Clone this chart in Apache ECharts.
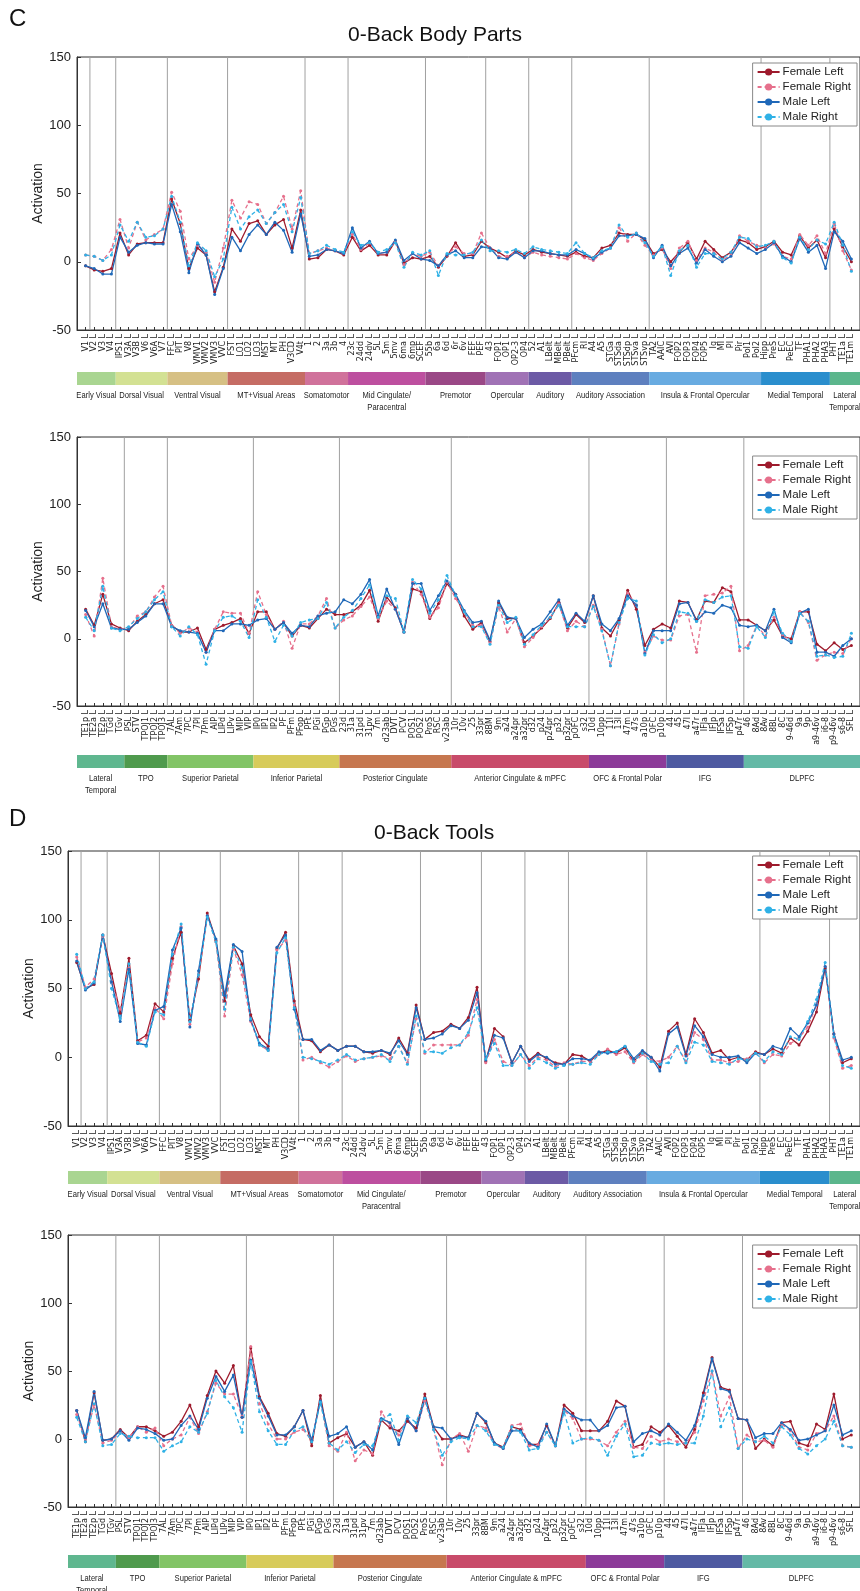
<!DOCTYPE html>
<html>
<head>
<meta charset="utf-8">
<title>0-Back activation</title>
<script src="https://cdn.jsdelivr.net/npm/echarts@6/dist/echarts.min.js"></script>
<style>
  html, body { margin: 0; background: #fff; }
  #chart { width: 860px; height: 1591px; }
</style>
</head>
<body>
<div id="chart"></div>
<script>
// ---- region names (left hemisphere), first and second half of the atlas ----
var namesA = ['V1','V2','V3','V4','IPS1','V3A','V3B','V6','V6A','V7','FFC','PIT','V8','VMV1','VMV2','VMV3','VVC',
  'FST','LO1','LO2','LO3','MST','MT','PH','V3CD','V4t','1','2','3a','3b','4',
  '23c','24dd','24dv','5L','5m','5mv','6ma','6mp','SCEF','55b','6a','6d','6r','6v','FEF','PEF',
  '43','FOP1','OP1','OP2-3','OP4','52','A1','LBelt','MBelt','PBelt',
  'PFcm','RI','A4','A5','STGa','STSda','STSdp','STSva','STSvp',
  'TA2','AAIC','AVI','FOP2','FOP3','FOP4','FOP5','Ig','MI','PI','Pir','PoI1','PoI2',
  'Hipp','PreS','EC','PeEC','TF','PHA1','PHA2','PHA3','PHT','TE1a','TE1m'];
var namesB = ['TE1p','TE2a','TE2p','TGd','TGv','PSL','STV','TPOJ1','TPOJ2','TPOJ3',
  '7AL','7Am','7PC','7Pl','7Pm','AIP','LIPd','LIPv','MIP','VIP',
  'IP0','IP1','IP2','PF','PFm','PFop','PFt','PGi','PGp','PGs',
  '23d','31a','31pd','31pv','7m','d23ab','DVT','PCV','POS1','POS2','ProS','RSC','v23ab',
  '10r','10v','25','33pr','8BM','9m','a24','a24pr','a32pr','d32','p24','p24pr','p32','p32pr','pOFC','s32',
  '10d','10pp','11l','13l','47m','47s','a10p','OFC','p10p',
  '44','45','47l','a47r','IFJa','IFJp','IFSa','IFSp','p47r',
  '46','8Ad','8Av','8BL','8C','9-46d','9a','9p','a9-46v','i6-8','p9-46v','s6-8','SFL'];

// network groups shown in the colour strip
var groupNamesA = ['Early Visual','Dorsal Visual','Ventral Visual','MT+Visual Areas','Somatomotor',
  'Mid Cingulate/\nParacentral','Premotor','Opercular','Auditory','Auditory Association',
  'Insula & Frontal Opercular','Medial Temporal','Lateral\nTemporal'];
var groupSizesA = [4, 6, 7, 9, 5, 9, 7, 5, 5, 9, 13, 8, 3];
var groupNamesB = ['Lateral\nTemporal','TPO','Superior Parietal','Inferior Parietal','Posterior Cingulate',
  'Anterior Cingulate & mPFC','OFC & Frontal Polar','IFG','DLPFC'];
var groupSizesB = [5, 5, 10, 10, 13, 16, 9, 9, 13];
var extraDividersA = [1]; // V1 | V2

var seriesNames = ['Female Left', 'Female Right', 'Male Left', 'Male Right'];

// ---- 0-Back Body Parts ----
var bodyFemaleLeftA = [-3,-6,-7,-5,21,5,13,14,14,14, 46,28,-5,10,5,-22,-4, 24,15,28,30,20,27,31,10,38,
  2,3,9,8,5, 18,8,12,5,5,15,-1,3,2, 4,-4,4,14,4,5,15, 10,7,3,8,5, 9,7,6,5,4,
  7,4,3,10,12,21,20,20,16, 6,9,0,7,14,2,15,9,3,7,16,14,9, 11,15,7,5,19,10,16,3, 24,11,0];
var bodyFemaleRightA = [5,4,1,9,31,10,29,16,20,24, 51,37,2,12,7,-15,10, 45,32,44,42,28,36,48,24,52,
  6,8,10,8,6, 20,9,14,6,7,15,-2,6,4, 7,-3,5,11,6,6,21, 10,4,4,7,3, 7,5,4,3,2,
  6,3,1,6,10,25,15,21,12, 5,10,-5,10,15,1,10,7,1,5,19,15,12, 10,13,4,2,20,12,19,6, 28,8,-6];
var bodyMaleLeftA = [-3,-5,-9,-9,18,7,12,14,13,13, 42,22,-8,13,5,-24,-5, 18,8,20,27,20,29,23,7,35,
  4,5,9,8,6, 25,10,15,6,7,16,1,6,2, 1,-3,5,8,3,3,11, 10,3,2,7,3, 8,8,6,5,5,
  9,6,2,7,10,19,19,20,17, 3,12,-3,6,10,-1,9,4,0,4,14,10,6, 9,14,4,0,17,7,12,-5, 22,15,2];
var bodyMaleRightA = [5,4,1,5,27,15,29,18,19,24, 48,29,-3,14,8,-11,2, 40,24,33,38,28,36,42,22,47,
  6,8,12,9,7, 22,12,14,7,9,14,-4,7,5, 8,-10,6,5,5,7,16, 8,8,7,9,6, 11,9,8,7,6,
  14,6,3,8,10,27,18,21,14, 4,11,-10,8,12,-4,6,6,2,7,18,17,11, 12,15,3,-1,18,9,16,13, 29,12,-7];

var bodyFemaleLeftB = [22,10,33,11,8, 6,13,18,26,29, 10,5,5,8,-8,7,10,12,15,4, 20,20,7,12,2,10,8,15,22,18,
  18,20,25,36,13,31,23,5,37,35,15,26,41, 33,17,7,12,-2,27,15,15,-3,2,8,15,27,8,18,12,
  32,8,2,14,36,22,-5,7,11, 8,28,27,14,28,27,38,35,14, 14,10,6,14,2,0,20,20,-4,-9,-3,-8,-5];
var bodyFemaleRightB = [18,2,45,9,7, 8,17,20,31,39, 10,4,8,5,-10,7,20,19,19,4, 35,18,7,13,-7,11,11,17,30,8,
  14,17,24,31,15,28,22,5,42,33,16,23,42, 30,20,10,10,-3,24,5,15,-6,1,9,16,26,6,13,9,
  25,7,-20,11,34,25,-10,2,-1, -1,17,18,-10,32,33,34,39,-9, -5,10,2,16,3,-2,20,12,-16,-12,-10,-11,0];
var bodyMaleLeftB = [21,9,26,8,7, 7,12,17,26,26, 9,6,5,4,-10,6,6,11,11,10, 14,15,7,12,4,10,9,17,19,20,
  29,26,33,44,17,37,22,5,41,41,21,32,43, 33,21,12,13,-1,28,16,15,1,7,11,20,29,10,19,13,
  32,11,6,15,32,25,-11,6,6, 6,26,27,13,20,19,25,23,10, 9,10,6,22,1,-3,19,22,-10,-10,-13,-5,0];
var bodyMaleRightB = [16,6,39,8,6, 9,15,20,29,35, 9,2,9,3,-19,6,16,17,13,1, 29,16,-2,10,2,12,14,15,27,8,
  16,21,30,40,16,32,30,5,44,37,19,29,47, 32,20,9,9,-4,25,12,16,-4,3,10,16,25,9,9,9,
  24,6,-20,12,30,28,-12,3,-3, 0,20,19,13,29,27,31,32,-6, -7,9,1,20,4,-2,19,13,-13,-12,-14,-13,4];

// ---- 0-Back Tools ----
var toolFemaleLeftA = [69,50,53,89,61,32,72,12,16,39, 33,72,91,27,57,105,85, 41,81,68,31,15,8,79,91,41,
  13,12,4,9,5, 8,8,4,3,5,2,14,3,38, 13,18,19,24,21,29,51, -3,21,15,-4,8, -2,3,-1,-4,-5,
  2,1,-3,3,5,3,7,-3,4, 0,-7,19,25,2,28,18,3,5,-2,0,-2,4, 2,6,3,14,9,19,33,65, 17,-4,-1];
var toolFemaleRightA = [73,51,57,88,55,35,65,11,14,36, 28,68,95,24,60,103,84, 30,79,60,26,9,5,78,85,38,
  -2,0,-4,-7,-3, 1,-3,-1,0,1,-1,8,-4,28, 3,9,9,9,9,16,42, -4,13,-3,-6,2, -6,0,-2,-7,-4,
  -5,-3,-3,2,6,2,4,-4,2, -2,-3,0,8,-3,18,13,-2,-2,-4,-3,-1,3, -4,2,1,10,14,22,38,66, 14,-8,-6];
var toolMaleLeftA = [70,49,54,89,55,26,64,10,9,34, 37,78,94,22,63,103,86, 45,82,77,27,10,6,80,89,35,
  13,13,5,9,5, 8,8,4,4,5,3,12,2,36, 13,14,17,23,21,27,47, -2,16,14,-4,8, -3,2,0,-5,-5,
  -1,-1,-2,4,3,4,8,-1,5, 0,-10,17,22,1,23,15,2,0,0,1,-4,3, 2,8,6,21,15,25,38,66, 17,-2,0];
var toolMaleRightA = [75,50,55,89,50,28,68,11,8,33, 31,75,97,26,60,102,84, 35,80,65,28,9,5,76,87,36,
  0,-1,-3,-5,-2, 2,-2,-1,0,2,-3,8,-5,30, 4,4,3,7,9,18,36, -1,10,-6,-6,2, -8,-1,-4,-8,-6,
  -5,-4,-5,2,4,4,8,-3,3, -3,-5,-4,8,-4,11,9,-3,-4,-5,-1,-2,3, -3,4,2,15,13,26,42,69, 15,-6,-8];

var toolFemaleLeftB = [21,-2,34,-1,0, 7,1,9,9,6, 2,5,13,25,9,32,50,41,54,16, 67,31,19,4,2,9,21,-5,32,-3,
  1,4,-6,-2,-12,14,8,6,13,8,33,9,0, 0,3,1,19,12,-3,-6,9,7,-4,-4,10,-5,25,19,6,
  6,6,13,28,24,-6,-4,9,5, 10,2,-6,7,34,60,38,36,15, 14,-7,0,-5,12,13,-3,-5,11,7,33,0,3];
var toolFemaleRightB = [18,0,25,-3,-1, 5,1,9,5,8, -5,0,3,16,4,20,41,33,33,17, 68,26,11,0,0,5,7,-1,28,-5,
  -9,5,-16,-8,-11,20,10,3,15,6,28,7,-19, 0,4,-9,10,8,-4,-7,10,11,-5,-4,5,-5,21,15,0,
  0,-1,-5,5,13,-6,-7,2,-2, 0,-2,-3,5,28,50,17,31,-7, 3,-2,-1,-6,11,6,-6,-8,4,6,17,-5,-6];
var toolMaleLeftB = [21,1,35,-1,0, 6,-1,8,7,4, -1,0,10,17,7,30,46,35,47,16, 58,30,17,3,3,9,21,-1,28,2,
  4,9,-6,-2,-8,15,12,-4,15,6,30,9,8, 0,2,1,19,13,-3,-7,6,6,-3,-6,11,-5,22,17,14,
  14,6,10,23,24,-2,4,6,3, 11,5,-1,10,32,59,37,35,15, 14,1,4,4,12,7,-1,0,3,6,25,3,6];
var toolMaleRightB = [16,-2,26,-5,-4, 4,2,1,1,1, -9,-5,-2,9,5,19,43,31,23,5, 57,20,6,-4,-4,6,9,-2,27,-3,
  -8,-2,-10,-4,-5,14,18,-1,17,12,30,7,-12, -2,1,0,10,6,-4,-6,9,5,-8,-7,5,-5,20,-3,0,
  1,-1,-12,2,11,-13,-12,-3,-4, -3,-4,-3,-3,17,50,9,23,-7, 0,-2,2,-3,9,3,-7,-11,-5,0,13,-5,-6];

// ---- styles ----
var lineColors = ['#9e1a2c', '#e6708c', '#1f68b8', '#2fb1e6'];
var lineDashed = [false, true, false, true];
var groupColorsA = ['#a9d591','#d3e193','#d6c084','#c56c64','#d0729b','#bd4f9f','#9a4886',
  '#a072b5','#6c5aa5','#5e80bf','#68abe1','#2a8ecd','#5bb68c'];
var groupColorsB = ['#5fb78f','#4f9a4d','#82c466','#d7cb5b','#c6774f','#c84b6a','#8c3b99','#4e5aa1','#64b9a6'];
var sansFont = '"Liberation Sans", Arial, sans-serif';

var half = {
  A: { names: namesA, groupNames: groupNamesA, groupSizes: groupSizesA, groupColors: groupColorsA, extra: extraDividersA },
  B: { names: namesB, groupNames: groupNamesB, groupSizes: groupSizesB, groupColors: groupColorsB, extra: [] }
};

var panels = [
  { half: half.A, values: [bodyFemaleLeftA, bodyFemaleRightA, bodyMaleLeftA, bodyMaleRightA],
    left: 77, top: 57, height: 273, stripGap: 42, legendTop: 63, nameGap: 32 },
  { half: half.B, values: [bodyFemaleLeftB, bodyFemaleRightB, bodyMaleLeftB, bodyMaleRightB],
    left: 77, top: 437, height: 269, stripGap: 49, legendTop: 456, nameGap: 32 },
  { half: half.A, values: [toolFemaleLeftA, toolFemaleRightA, toolMaleLeftA, toolMaleRightA],
    left: 68, top: 851, height: 275, stripGap: 45, legendTop: 856, nameGap: 32 },
  { half: half.B, values: [toolFemaleLeftB, toolFemaleRightB, toolMaleLeftB, toolMaleRightB],
    left: 68, top: 1235, height: 272, stripGap: 48, legendTop: 1245, nameGap: 32 }
];

var N = 90;
var grids = [], xAxes = [], yAxes = [], series = [], legends = [];

panels.forEach(function (p, pi) {
  var h = p.half;

  grids.push({
    left: p.left, right: 0, top: p.top, height: p.height,
    show: true, borderColor: '#333', borderWidth: 1, backgroundColor: 'transparent'
  });

  xAxes.push({
    gridIndex: pi, type: 'value', min: 0, max: N + 1, interval: 1,
    axisLine: { show: true, onZero: false, lineStyle: { color: '#333' } },
    axisTick: { show: true, inside: true, length: 3, lineStyle: { color: '#333' } },
    splitLine: { show: false },
    axisLabel: {
      rotate: 90, fontSize: 8, margin: 4, color: '#222', fontFamily: 'DejaVu Sans',
      formatter: function (v) {
        var k = Math.round(v);
        return (k >= 1 && k <= N) ? h.names[k - 1] + ' L' : '';
      }
    }
  });

  yAxes.push({
    gridIndex: pi, type: 'value', min: -50, max: 150, interval: 50,
    axisLine: { show: true, lineStyle: { color: '#333' } },
    axisTick: { show: true, inside: true, length: 4, lineStyle: { color: '#333' } },
    splitLine: { show: false },
    axisLabel: { fontSize: 13, color: '#222', margin: 6, fontFamily: sansFont },
    name: 'Activation', nameLocation: 'middle', nameGap: p.nameGap, nameRotate: 90,
    nameMoveOverlap: false,
    nameTextStyle: { fontSize: 14, color: '#222', fontFamily: sansFont }
  });

  // group ranges (1-based positions on the x scale) and divider positions
  var ranges = [], dividers = [], start = 0;
  h.groupSizes.forEach(function (n, gi) {
    ranges.push([start + 1, start + n]);
    if (gi > 0) dividers.push([start + 0.5, 0]);
    start += n;
  });
  h.extra.forEach(function (k) { dividers.push([k + 0.5, 0]); });

  series.push({
    type: 'custom', xAxisIndex: pi, yAxisIndex: pi, silent: true, z: 1,
    data: dividers,
    renderItem: function (params, api) {
      var a = api.coord([api.value(0), 150]);
      var b = api.coord([api.value(0), -50]);
      return { type: 'line', shape: { x1: a[0], y1: a[1], x2: b[0], y2: b[1] },
        style: { stroke: '#a0a0a0', lineWidth: 1 } };
    }
  });

  // colour strip with group names under the axis labels
  series.push({
    type: 'custom', xAxisIndex: pi, yAxisIndex: pi, silent: true, clip: false, z: 1,
    data: ranges,
    renderItem: function (params, api) {
      var gi = params.dataIndex;
      var last = h.groupSizes.length - 1;
      var lo = gi === 0 ? 0 : api.value(0) - 0.5;
      var hi = gi === last ? N + 1 : api.value(1) + 0.5;
      var p0 = api.coord([lo, -50]);
      var p1 = api.coord([hi, -50]);
      var y = p0[1] + p.stripGap;
      return {
        type: 'group',
        children: [
          { type: 'rect', shape: { x: p0[0], y: y, width: p1[0] - p0[0], height: 13 },
            style: { fill: h.groupColors[gi] } },
          { type: 'text', x: (p0[0] + p1[0]) / 2, y: y + 17, scaleX: 0.8,
            style: { text: h.groupNames[gi], fill: '#222', fontSize: 9.5, lineHeight: 12,
              fontFamily: sansFont, align: 'center', verticalAlign: 'top' } }
        ]
      };
    }
  });

  p.values.forEach(function (vals, si) {
    series.push({
      name: seriesNames[si], type: 'line', xAxisIndex: pi, yAxisIndex: pi, z: 3,
      data: vals.map(function (v, i) { return [i + 1, v]; }),
      symbol: 'circle', symbolSize: 3, showSymbol: true,
      itemStyle: { color: lineColors[si] },
      lineStyle: { color: lineColors[si], width: 1.3, type: lineDashed[si] ? [4, 3] : 'solid' }
    });
  });

  legends.push({
    data: seriesNames, orient: 'vertical', right: 3, top: p.legendTop,
    backgroundColor: '#fff', borderColor: '#888', borderWidth: 1,
    padding: [3, 6, 3, 4], itemGap: 3, itemWidth: 22, itemHeight: 9,
    textStyle: { fontSize: 11.5, color: '#222', fontFamily: sansFont, padding: [0, 0, 0, -2] }
  });
});

var chart = echarts.init(document.getElementById('chart'));
chart.setOption({
  animation: false,
  backgroundColor: '#fff',
  title: [
    { text: 'C', left: 4, top: 2, textStyle: { fontSize: 24, fontWeight: 'normal', color: '#111', fontFamily: sansFont } },
    { text: '0-Back Body Parts', left: 343, top: 20, textStyle: { fontSize: 21, fontWeight: 'normal', color: '#111', fontFamily: sansFont } },
    { text: 'D', left: 4, top: 802, textStyle: { fontSize: 24, fontWeight: 'normal', color: '#111', fontFamily: sansFont } },
    { text: '0-Back Tools', left: 369, top: 818, textStyle: { fontSize: 21, fontWeight: 'normal', color: '#111', fontFamily: sansFont } }
  ],
  legend: legends,
  grid: grids,
  xAxis: xAxes,
  yAxis: yAxes,
  series: series
});
</script>
</body>
</html>
